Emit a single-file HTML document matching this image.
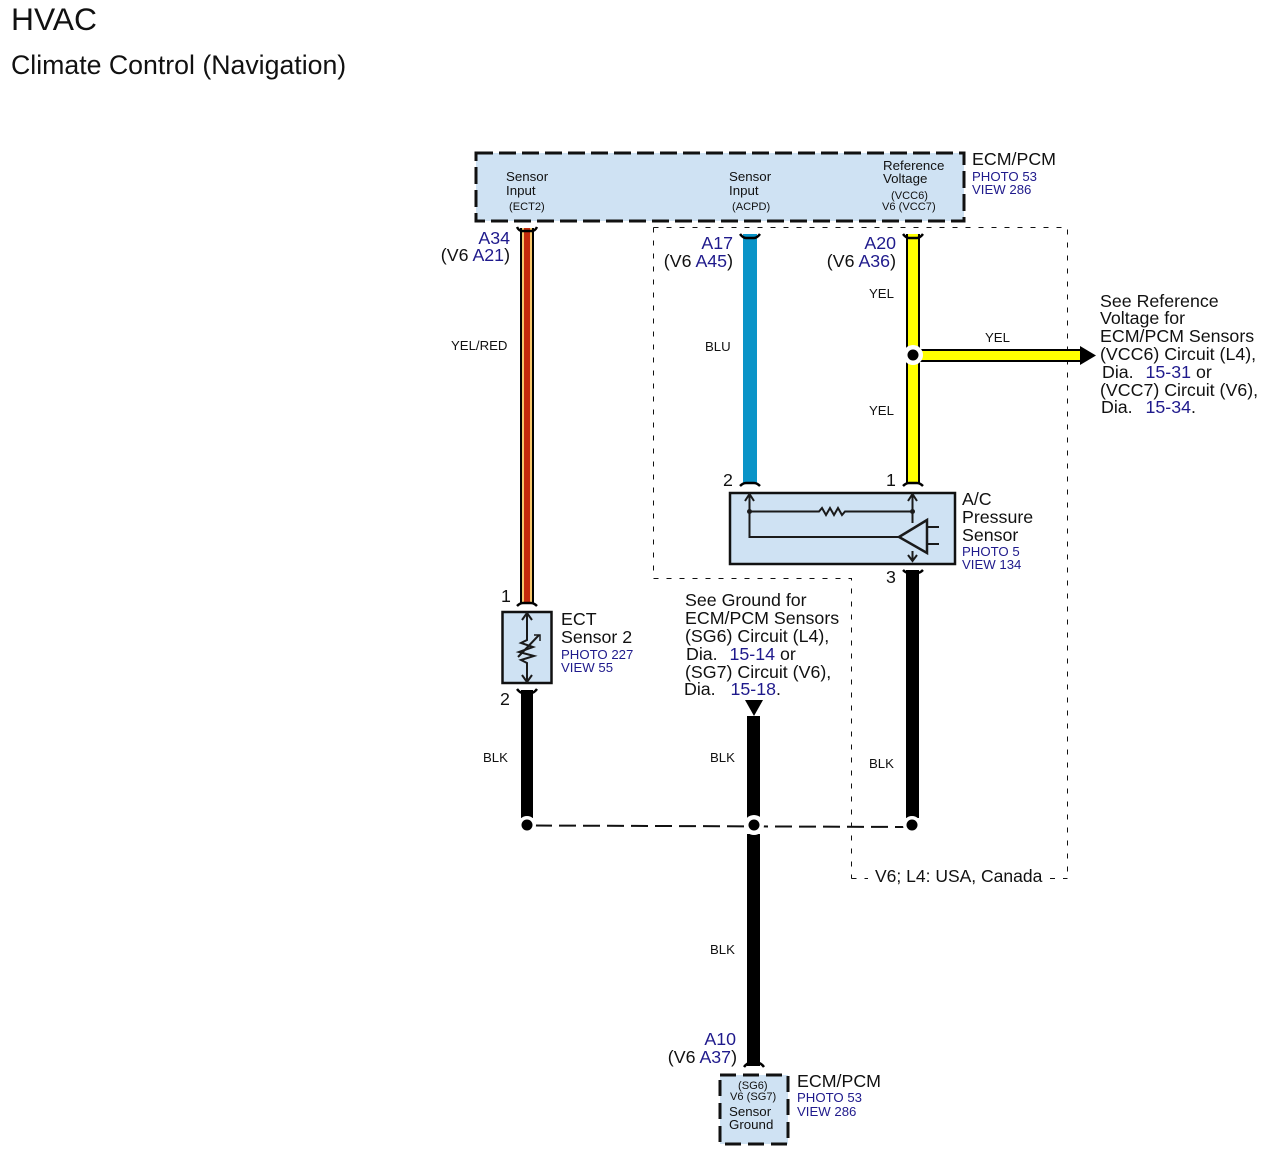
<!DOCTYPE html>
<html><head><meta charset="utf-8"><style>
html,body{margin:0;padding:0;background:#fff}
svg{display:block}
text{font-family:"Liberation Sans",Arial,sans-serif;fill:#111}
.b{fill:#1f1a8c}
text.b{fill:#1f1a8c}
tspan.b{fill:#1f1a8c}
.lbl{font-size:17.8px}
.sm{font-size:13.3px}
.xs{font-size:11.1px}
.w{font-size:13.2px}
.ph{font-size:13.2px;fill:#1f1a8c}
.big{font-size:17.8px}
</style></head><body>
<svg width="1270" height="1159" viewBox="0 0 1270 1159" xmlns="http://www.w3.org/2000/svg">
<rect width="1270" height="1159" fill="#fff"/>
<text x="11" y="30" font-size="31.8">HVAC</text>
<text x="11" y="74" font-size="26.7">Climate Control (Navigation)</text>

<!-- dotted regions -->
<g fill="none" stroke="#111" stroke-width="1" stroke-dasharray="5 8">
<path d="M653.500 227.500H1067.500V878.500"/>
<path d="M653.500 227.500V578.500H851.500V878.500"/>
<path d="M851.500 878.500H868M1050 878.500H1067.500"/>
</g>

<!-- boxes -->
<rect x="476" y="153" width="488" height="68" fill="#cfe2f3"/>
<rect x="476" y="153" width="488" height="68" fill="none" stroke="#111" stroke-width="3" stroke-dasharray="17 6"/>
<rect x="730" y="493" width="225" height="71" fill="#cfe2f3" stroke="#111" stroke-width="2.5"/>
<rect x="502.500" y="612" width="49" height="71" fill="#cfe2f3" stroke="#111" stroke-width="2.500"/>
<rect x="720" y="1075" width="68" height="69" fill="#cfe2f3"/>
<rect x="720" y="1075" width="68" height="69" fill="none" stroke="#111" stroke-width="3" stroke-dasharray="16 7"/>

<!-- wires -->
<rect x="520" y="228" width="14" height="376" fill="#000"/>
<rect x="522" y="228" width="10" height="376" fill="#f7c76b"/>
<rect x="524" y="228" width="6" height="376" fill="#c62a0c"/>
<rect x="743" y="234" width="14" height="250" fill="#0a94c8"/>
<rect x="906" y="234" width="14" height="250" fill="#000"/>
<rect x="908" y="234" width="10" height="250" fill="#ffff00"/>
<rect x="920" y="349" width="162" height="13" fill="#000"/>
<rect x="920" y="351" width="160" height="9" fill="#ffff00"/>
<path d="M1080 346L1096 355.500L1080 365Z" fill="#000"/>
<rect x="521" y="690" width="12" height="128" fill="#000"/>
<rect x="747" y="716" width="13" height="104" fill="#000"/>
<rect x="747" y="834" width="13" height="232" fill="#000"/>
<rect x="906" y="570" width="13" height="248" fill="#000"/>
<path d="M745 700H763L754 716Z" fill="#000"/>

<!-- terminal caps -->
<g fill="none" stroke="#000" stroke-width="2.500">
<path d="M517 227Q519 231 522 231H532Q535 231 537 227"/>
<path d="M740 234Q743 238 746 238H754Q757 238 760 234"/>
<path d="M903 234Q906 238 909 238H917Q920 238 923 234"/>
<path d="M740 486Q743 483 746 483H754Q757 483 760 486"/>
<path d="M903 486Q906 483 909 483H917Q920 483 923 486"/>
<path d="M903 570Q906 573 909 573H917Q920 573 923 570"/>
<path d="M517 606Q520 603 523 603H531Q534 603 537 606"/>
<path d="M517 689Q520 693 523 693H531Q534 693 537 689"/>
<path d="M744 1067Q747 1063 750 1063H758Q761 1063 764 1067"/>
</g>

<!-- junction line -->
<path d="M535 825.500L905 827" fill="none" stroke="#111" stroke-width="2" stroke-dasharray="17 7"/>
<circle cx="527" cy="825" r="9" fill="#fff"/>
<circle cx="754" cy="825" r="10" fill="#fff"/>
<circle cx="912" cy="825" r="9" fill="#fff"/>
<circle cx="913" cy="355" r="10" fill="#fff"/>
<circle cx="527" cy="825" r="5.500" fill="#000"/>
<circle cx="754" cy="825" r="5.500" fill="#000"/>
<circle cx="912" cy="825" r="5.500" fill="#000"/>
<circle cx="913" cy="355" r="5.500" fill="#000"/>

<!-- A/C sensor symbol -->
<g fill="none" stroke="#1a1a1a" stroke-width="2">
<path d="M749.500 495V537H899"/>
<path d="M745 501L749.500 494L754 501"/>
<path d="M749.500 511.500H819L822 508L826 515L830 508L834 515L838 508L842 515L845 511.500H913"/>
<path d="M912.500 495V523M912.500 551V561"/>
<path d="M908 501L912.500 494L917 501"/>
<path d="M908 555L912.500 561L917 555"/>
<path d="M899 537L927 520V553Z" stroke-width="2.500"/>
<path d="M927 527H939M927 544H939"/>
</g>
<circle cx="749.500" cy="511.500" r="2.500" fill="#1a1a1a"/>
<circle cx="912.500" cy="511.500" r="2.500" fill="#1a1a1a"/>

<!-- ECT symbol -->
<g fill="none" stroke="#1a1a1a" stroke-width="2">
<path d="M527 614V640L521 643L533 647L519 652L534 656L521 660L527 663V682"/>
<path d="M522 620L527 613L532 620"/>
<path d="M522 675L527 682L532 675"/>
<path d="M518 657L539 635"/>
<path d="M534 635H540V641" stroke-width="1.500"/>
</g>

<!-- top box labels -->
<text x="506" y="181" class="sm">Sensor</text>
<text x="506" y="195" class="sm">Input</text>
<text x="509" y="210" class="xs">(ECT2)</text>
<text x="729" y="181" class="sm">Sensor</text>
<text x="729" y="195" class="sm">Input</text>
<text x="732" y="210" class="xs">(ACPD)</text>
<text x="883" y="170" class="sm">Reference</text>
<text x="883" y="183" class="sm">Voltage</text>
<text x="891" y="199" class="xs">(VCC6)</text>
<text x="882" y="210" class="xs">V6 (VCC7)</text>
<text x="972" y="165" class="big">ECM/PCM</text>
<text x="972" y="181" class="ph">PHOTO 53</text>
<text x="972" y="194" class="ph">VIEW 286</text>

<!-- pin labels -->
<text x="510" y="244" class="lbl b" text-anchor="end">A34</text>
<text x="510" y="261" class="lbl" text-anchor="end">(V6 <tspan class="b">A21</tspan>)</text>
<text x="733" y="249" class="lbl b" text-anchor="end">A17</text>
<text x="733" y="267" class="lbl" text-anchor="end">(V6 <tspan class="b">A45</tspan>)</text>
<text x="896" y="249" class="lbl b" text-anchor="end">A20</text>
<text x="896" y="267" class="lbl" text-anchor="end">(V6 <tspan class="b">A36</tspan>)</text>
<text x="736" y="1045" class="lbl b" text-anchor="end">A10</text>
<text x="737" y="1063" class="lbl" text-anchor="end">(V6 <tspan class="b">A37</tspan>)</text>

<text x="723" y="486" class="lbl">2</text>
<text x="886" y="486" class="lbl">1</text>
<text x="886" y="583" class="lbl">3</text>
<text x="501" y="602" class="lbl">1</text>
<text x="500" y="705" class="lbl">2</text>

<!-- wire labels -->
<text x="451" y="350" class="w">YEL/RED</text>
<text x="705" y="351" class="w">BLU</text>
<text x="869" y="298" class="w">YEL</text>
<text x="985" y="342" class="w">YEL</text>
<text x="869" y="415" class="w">YEL</text>
<text x="483" y="762" class="w">BLK</text>
<text x="710" y="762" class="w">BLK</text>
<text x="869" y="768" class="w">BLK</text>
<text x="710" y="954" class="w">BLK</text>

<!-- right note -->
<text x="1100" y="307" class="lbl">See Reference</text>
<text x="1100" y="324" class="lbl">Voltage for</text>
<text x="1100" y="342" class="lbl">ECM/PCM Sensors</text>
<text x="1100" y="360" class="lbl">(VCC6) Circuit (L4),</text>
<text x="1102" y="378" class="lbl">Dia.&#160;&#160;<tspan class="b" dx="2">15-31</tspan> or</text>
<text x="1100" y="396" class="lbl">(VCC7) Circuit (V6),</text>
<text x="1101" y="413" class="lbl">Dia.&#160;&#160;<tspan class="b" dx="3">15-34</tspan>.</text>

<!-- A/C labels -->
<text x="962" y="505" class="lbl">A/C</text>
<text x="962" y="523" class="lbl">Pressure</text>
<text x="962" y="541" class="lbl">Sensor</text>
<text x="962" y="556" class="ph">PHOTO 5</text>
<text x="962" y="569" class="ph">VIEW 134</text>

<!-- ECT labels -->
<text x="561" y="625" class="lbl">ECT</text>
<text x="561" y="643" class="lbl">Sensor 2</text>
<text x="561" y="659" class="ph">PHOTO 227</text>
<text x="561" y="672" class="ph">VIEW 55</text>

<!-- ground note -->
<text x="685" y="606" class="lbl">See Ground for</text>
<text x="685" y="624" class="lbl">ECM/PCM Sensors</text>
<text x="685" y="642" class="lbl">(SG6) Circuit (L4),</text>
<text x="686" y="660" class="lbl">Dia.&#160;&#160;<tspan class="b" dx="2">15-14</tspan> or</text>
<text x="685" y="678" class="lbl">(SG7) Circuit (V6),</text>
<text x="684" y="695" class="lbl">Dia.&#160;&#160;<tspan class="b" dx="5">15-18</tspan>.</text>

<text x="875" y="882" font-size="17.5">V6; L4: USA, Canada</text>

<!-- bottom box -->
<text x="738" y="1089" class="xs">(SG6)</text>
<text x="730" y="1100" class="xs">V6 (SG7)</text>
<text x="729" y="1116" class="sm">Sensor</text>
<text x="729" y="1129" class="sm">Ground</text>
<text x="797" y="1087" class="big">ECM/PCM</text>
<text x="797" y="1102" class="ph">PHOTO 53</text>
<text x="797" y="1116" class="ph">VIEW 286</text>
</svg>
</body></html>
